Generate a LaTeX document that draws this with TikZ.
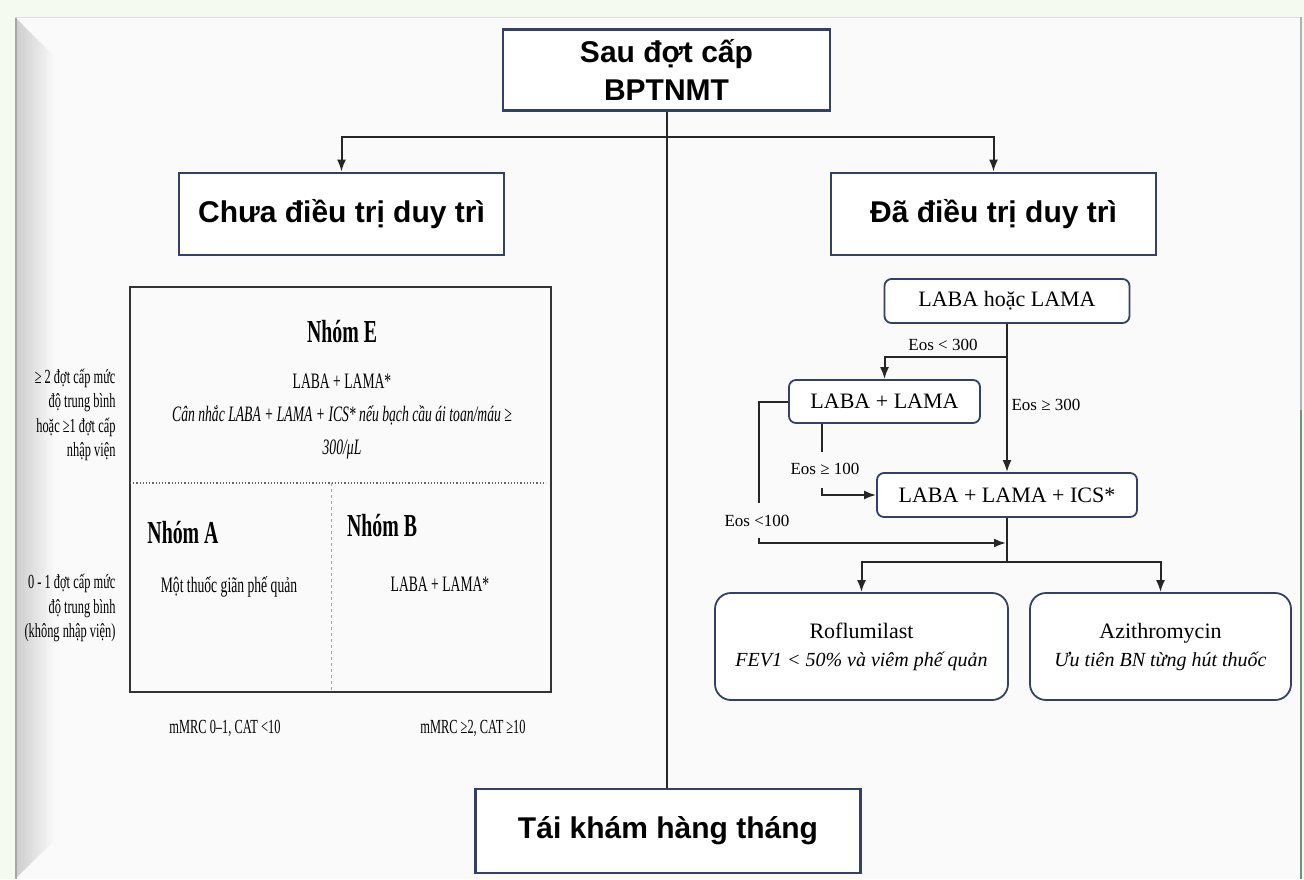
\documentclass[tikz,border=0pt]{standalone}
\usepackage{fontspec}
\setmainfont{Liberation Serif}
\newfontfamily\headfont{Liberation Sans}
\newfontfamily\narrowfont[FakeStretch=0.62]{Liberation Serif}
\usetikzlibrary{arrows.meta}

\definecolor{boxline}{RGB}{52,64,104}
\definecolor{paper}{RGB}{250,250,250}
\definecolor{mint}{RGB}{245,250,240}
\definecolor{edge}{RGB}{108,150,112}
\newcommand{\fs}[2]{\fontsize{#1}{#2}\selectfont}

\begin{document}
\begin{tikzpicture}[x=1pt,y=-1pt,>={Latex[length=12pt,width=9pt]},
  head/.style={draw=boxline,line width=2.8pt,fill=white,font=\headfont\bfseries\fs{30}{38},align=center},
  drug/.style={draw=boxline,line width=1.8pt,fill=white,rounded corners=7pt,font=\fs{22}{28},align=center},
  cell/.style={font=\narrowfont\fs{22}{33},align=center},
  group/.style={font=\narrowfont\bfseries\fs{32}{36}},
  side/.style={font=\narrowfont\fs{20}{24.5},align=right,anchor=east},
  eos/.style={font=\fs{17}{20}},
  link/.style={line width=2pt,draw=black!85}]

\useasboundingbox (0,0) rectangle (1304,879);

% frame
\fill[mint] (0,0) rectangle (1304,879);
\fill[paper] (15,17) rectangle (1302,879);
\shade[left color=black!20,right color=paper] (15,17) -- (55,57) -- (55,840) -- (15,879) -- cycle;
\draw[black!35,line width=2.5pt] (16,17) -- (16,879);
\draw[black!12,line width=1pt] (15,17.5) -- (1302,17.5);
\draw[black!30,line width=2pt] (1301,17) -- (1301,410);
\draw[edge,line width=2.5pt] (1301,410) -- (1301,879);

% main boxes
\node[head,minimum width=327pt,minimum height=81pt] (top) at (666.5,70) {Sau đợt cấp\\BPTNMT};
\node[head,minimum width=325pt,minimum height=82pt] (untreated) at (341.5,214) {Chưa điều trị duy trì};
\node[head,minimum width=325pt,minimum height=82pt] (treated) at (993.5,214) {Đã điều trị duy trì};
\node[head,minimum width=385pt,minimum height=84pt] (followup) at (668,831) {Tái khám hàng tháng};

\coordinate (split) at (666.5,137);
\draw[link] (top.south) -- (top.south |- followup.north);
\draw[link,->] (split) -| (untreated.north);
\draw[link,->] (split) -| (treated.north);

% ABE table
\draw[line width=2pt,black!80] (130,287) rectangle (551,692);
\draw[dotted,black!60,line width=1.2pt] (130,483) -- (546,483);
\draw[dashed,black!35,line width=1pt] (331,483) -- (331,692);

\node[group] (groupE) at (342,332) {Nhóm E};
\node[cell] (treatE) at (342,417) {LABA + LAMA*\\\textit{Cân nhắc LABA + LAMA + ICS* nếu bạch cầu ái toan/máu ≥}\\\textit{300/μL}};
\node[group] (groupA) at (183,533) {Nhóm A};
\node[group] (groupB) at (382,526) {Nhóm B};
\node[cell] (treatA) at (229,587) {Một thuốc giãn phế quản};
\node[cell] (treatB) at (440,584) {LABA + LAMA*};

\node[side] (highrisk) at (119,415) {≥ 2 đợt cấp mức\\độ trung bình\\hoặc ≥1 đợt cấp\\nhập viện};
\node[side] (lowrisk) at (119,608) {0 - 1 đợt cấp mức\\độ trung bình\\(không nhập viện)};
\node[cell,font=\narrowfont\fs{20}{24}] (symA) at (225,728) {mMRC 0–1, CAT <10};
\node[cell,font=\narrowfont\fs{20}{24}] (symB) at (473,728) {mMRC ≥2, CAT ≥10};

% escalation on maintenance
\node[drug,minimum width=245pt,minimum height=44pt] (single) at (1007,301) {LABA hoặc LAMA};
\node[drug,minimum width=191pt,minimum height=43pt] (dual) at (884.5,401.5) {LABA + LAMA};
\node[drug,minimum width=260pt,minimum height=44pt] (triple) at (1007,495) {LABA + LAMA + ICS*};
\node[drug,rounded corners=16pt,minimum width=293pt,minimum height=107pt] (roflu) at (861.5,646.5)
  {Roflumilast\\\textit{\fs{20}{28}FEV1 < 50\% và viêm phế quản}};
\node[drug,rounded corners=16pt,minimum width=261pt,minimum height=107pt] (azith) at (1160.5,646.5)
  {Azithromycin\\\textit{\fs{20}{28}Ưu tiên BN từng hút thuốc}};

\coordinate (cut300) at (1007,357);
\draw[link,->] (single.south) -- (triple.north);
\draw[link,->] (cut300) -| (dual.north);
\node[eos] (lt300) at (943,345) {Eos < 300};
\node[eos,anchor=west] (ge300) at (1008,405) {Eos ≥ 300};

\coordinate (lowbend) at (759,503);
\coordinate (lowback) at (759,538);
\coordinate (merge) at (1006,543);
\draw[link] (dual.west) -| (lowbend);
\node[eos] (lt100) at (757,521) {Eos <100};
\draw[link,->] (lowback) |- (merge);

\coordinate (midbend) at (822,452);
\coordinate (midback) at (822,488);
\draw[link] (dual.south -| midbend) -- (midbend);
\node[eos] (ge100) at (825,469) {Eos ≥ 100};
\draw[link,->] (midback) |- (triple.west);

\coordinate (fork) at (1007,562);
\draw[link] (triple.south) -- (fork);
\draw[link,->] (fork) -| (roflu.north);
\draw[link,->] (fork) -| (azith.north);
\end{tikzpicture}
\end{document}
